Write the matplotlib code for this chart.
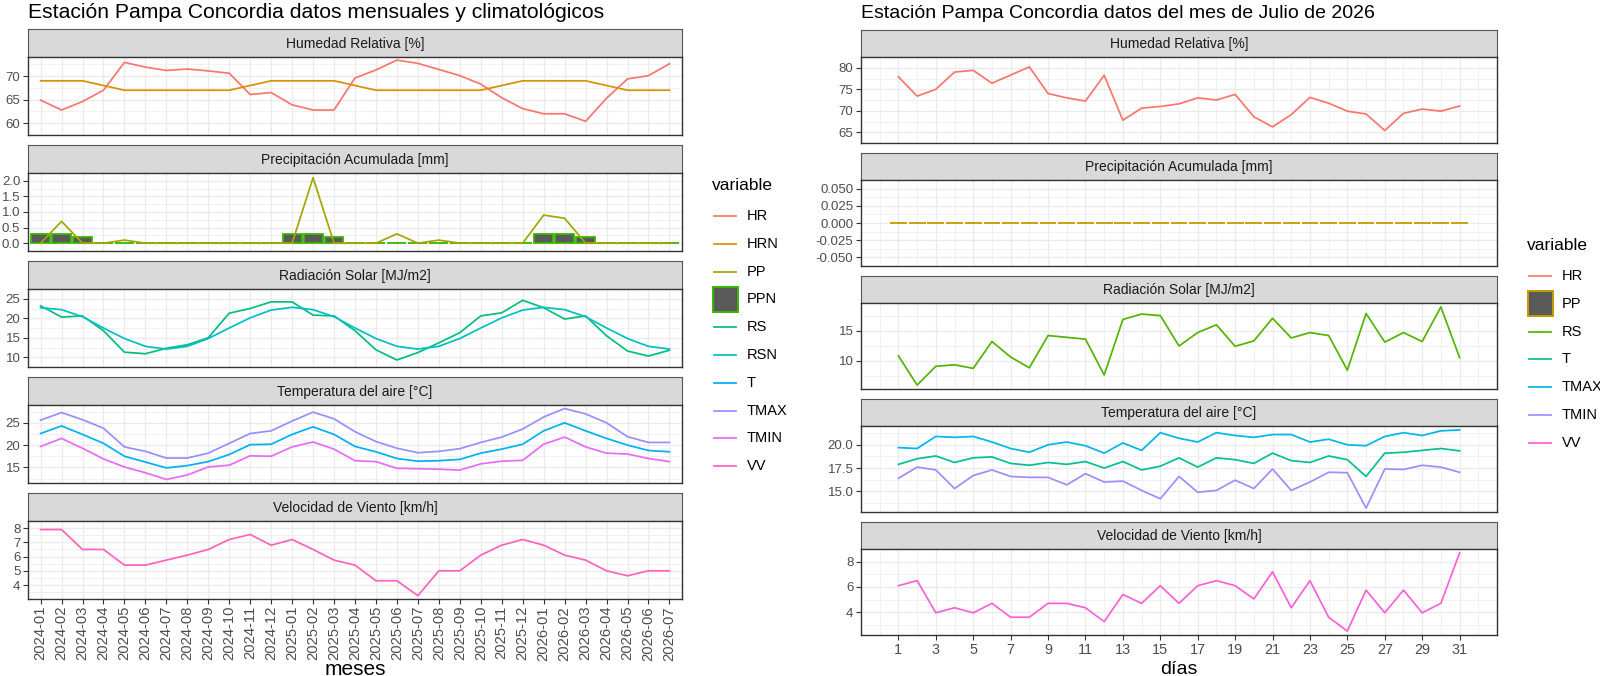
import numpy as np
import matplotlib.pyplot as plt
from matplotlib.lines import Line2D
from matplotlib.patches import Rectangle

W, H = 1600, 676
plt.rcParams["font.family"] = ["Liberation Sans", "DejaVu Sans"]
plt.rcParams["axes.unicode_minus"] = False

# ---------------------------------------------------------------- monthly / climatological data
meses = [f"{y}-{m:02d}" for y in (2024, 2025, 2026) for m in range(1, 13)][:31]
hr_mes = [64.9, 62.8, 64.6, 67.0, 72.9, 71.9, 71.2, 71.5, 71.1, 70.6, 66.1, 66.5, 63.9, 62.8, 62.8, 69.6,
          71.3, 73.4, 72.7, 71.4, 70.1, 68.3, 65.4, 63.1, 62.0, 62.0, 60.4, 65.3, 69.4, 70.1, 72.6]
hrn_mes = [69, 69, 69, 68, 67, 67, 67, 67, 67, 67, 68, 69, 69, 69, 69, 68,
           67, 67, 67, 67, 67, 67, 68, 69, 69, 69, 69, 68, 67, 67, 67]
pp_mes = [0.0, 0.7, 0.0, 0.0, 0.1, 0.0, 0.0, 0.0, 0.0, 0.0, 0.0, 0.0, 0.0, 2.1, 0.0, 0.0,
          0.0, 0.3, 0.0, 0.1, 0.0, 0.0, 0.0, 0.0, 0.9, 0.8, 0.0, 0.0, 0.0, 0.0, 0.0]
ppn_mes = [0.3, 0.3, 0.2, 0.0, 0.0, 0.0, 0.0, 0.0, 0.0, 0.0, 0.0, 0.0, 0.3, 0.3, 0.2, 0.0,
           0.0, 0.0, 0.0, 0.0, 0.0, 0.0, 0.0, 0.0, 0.3, 0.3, 0.2, 0.0, 0.0, 0.0, 0.0]
rs_mes = [23.2, 20.3, 20.6, 16.8, 11.3, 10.9, 12.3, 13.2, 15.0, 21.3, 22.5, 24.2, 24.2, 20.8, 20.6, 16.8,
          11.9, 9.3, 11.2, 13.7, 16.3, 20.6, 21.4, 24.6, 22.7, 19.8, 20.6, 15.5, 11.6, 10.3, 11.8]
rsn_mes = [22.7, 22.2, 20.4, 17.5, 14.8, 12.8, 12.1, 12.8, 14.8, 17.5, 20.1, 22.1, 22.8, 22.2, 20.4, 17.5,
           14.8, 12.8, 12.1, 12.8, 14.8, 17.5, 20.1, 22.1, 22.8, 22.2, 20.4, 17.5, 14.8, 12.8, 12.1]
t_mes = [22.6, 24.3, 22.4, 20.4, 17.5, 16.2, 14.9, 15.4, 16.3, 17.9, 20.1, 20.2, 22.4, 24.1, 22.4, 19.7,
         18.5, 17.0, 16.4, 16.5, 16.8, 18.2, 19.1, 20.2, 23.2, 25.0, 23.2, 21.5, 20.0, 18.8, 18.5]
tmax_mes = [25.6, 27.3, 25.7, 23.8, 19.6, 18.6, 17.1, 17.1, 18.2, 20.4, 22.6, 23.2, 25.4, 27.4, 25.9, 23.0,
            20.8, 19.3, 18.3, 18.6, 19.2, 20.6, 21.8, 23.6, 26.3, 28.2, 27.0, 25.0, 21.9, 20.6, 20.6]
tmin_mes = [19.7, 21.5, 19.3, 16.9, 15.1, 13.8, 12.3, 13.3, 15.1, 15.5, 17.6, 17.5, 19.6, 20.7, 19.1, 16.5,
            16.3, 14.8, 14.7, 14.6, 14.4, 15.8, 16.4, 16.6, 20.2, 21.8, 19.6, 18.2, 18.0, 17.0, 16.3]
vv_mes = [7.9, 7.9, 6.5, 6.5, 5.4, 5.4, 5.75, 6.1, 6.5, 7.2, 7.55, 6.8, 7.2, 6.5, 5.75, 5.4,
          4.3, 4.3, 3.25, 5.0, 5.0, 6.1, 6.8, 7.2, 6.8, 6.1, 5.75, 5.0, 4.65, 5.0, 5.0]

# ---------------------------------------------------------------- daily data, July 2026
dias = list(range(1, 32))
hr_dia = [77.9, 73.4, 75.0, 79.0, 79.4, 76.4, 78.3, 80.2, 74.0, 73.0, 72.25, 78.25, 67.8, 70.6, 71.0, 71.6,
          73.0, 72.5, 73.8, 68.6, 66.25, 69.1, 73.1, 71.75, 69.9, 69.25, 65.4, 69.4, 70.4, 69.9, 71.1]
pp_dia = [0.0] * 31
rs_dia = [10.8, 5.9, 9.05, 9.3, 8.7, 13.2, 10.6, 8.8, 14.2, 13.9, 13.6, 7.6, 16.9, 17.8, 17.55, 12.45,
          14.7, 16.0, 12.4, 13.3, 17.1, 13.8, 14.7, 14.2, 8.4, 17.9, 13.1, 14.7, 13.2, 19.0, 10.5]
t_dia = [17.9, 18.5, 18.8, 18.1, 18.6, 18.7, 18.0, 17.8, 18.1, 17.9, 18.2, 17.5, 18.2, 17.3, 17.7, 18.6,
         17.6, 18.6, 18.4, 18.0, 19.1, 18.3, 18.1, 18.8, 18.4, 16.6, 19.1, 19.2, 19.4, 19.6, 19.35]
tmax_dia = [19.7, 19.6, 20.9, 20.8, 20.9, 20.3, 19.6, 19.2, 20.0, 20.3, 19.9, 19.1, 20.2, 19.4, 21.3, 20.7,
            20.3, 21.3, 21.0, 20.8, 21.1, 21.1, 20.3, 20.6, 20.0, 19.9, 20.9, 21.3, 21.0, 21.5, 21.6]
tmin_dia = [16.4, 17.6, 17.3, 15.3, 16.7, 17.3, 16.6, 16.5, 16.5, 15.7, 16.9, 16.0, 16.1, 15.1, 14.2, 16.6,
            14.9, 15.1, 16.2, 15.3, 17.4, 15.1, 16.0, 17.05, 17.0, 13.2, 17.4, 17.35, 17.8, 17.6, 17.05]
vv_dia = [6.1, 6.5, 3.95, 4.35, 3.95, 4.7, 3.6, 3.6, 4.7, 4.7, 4.35, 3.25, 5.4, 4.7, 6.1, 4.7,
          6.1, 6.5, 6.1, 5.05, 7.2, 4.35, 6.5, 3.6, 2.5, 5.75, 3.95, 5.75, 3.95, 4.7, 8.7]

# ggplot hue palettes (10 and 7 levels)
COL_MES = {"HR": "#F8766D", "HRN": "#D89000", "PP": "#A3A500", "PPN": "#39B600", "RS": "#00BF7D",
           "RSN": "#00BFC4", "T": "#00B0F6", "TMAX": "#9590FF", "TMIN": "#E76BF3", "VV": "#FF62BC"}
COL_DIA = {"HR": "#F8766D", "PP": "#C49A00", "RS": "#53B400", "T": "#00C094", "TMAX": "#00B6EB",
           "TMIN": "#A58AFF", "VV": "#FB61D7"}
BAR_FILL = "#595959"
LW = 1.25
GRID = "#EBEBEB"
TICK_TXT = "#4D4D4D"
Y_TICK_SIZE = 9.5


def px_rect(left, top, width, height):
    return [left / W, 1 - (top + height) / H, width / W, height / H]


def facet(fig, left, top, width, strip_h, plot_h, title):
    strip = fig.add_axes(px_rect(left, top, width, strip_h))
    strip.set_facecolor("#D9D9D9")
    strip.set_xticks([])
    strip.set_yticks([])
    for spine in strip.spines.values():
        spine.set_color("#555555")
        spine.set_linewidth(0.8)
    strip.text(0.5, 0.48, title, ha="center", va="center", fontsize=10, color="#1A1A1A",
               transform=strip.transAxes)
    ax = fig.add_axes(px_rect(left, top + strip_h, width, plot_h))
    for spine in ax.spines.values():
        spine.set_color("#333333")
        spine.set_linewidth(1.0)
    ax.set_axisbelow(True)
    ax.tick_params(axis="y", which="major", length=3.5, width=0.8, color="#333333",
                   labelsize=Y_TICK_SIZE, labelcolor=TICK_TXT, pad=2)
    ax.tick_params(which="minor", length=0)
    return ax


def y_scale(ax, series, ticks, labels=None, fixed=None):
    if fixed is None:
        lo = min(min(s) for s in series)
        hi = max(max(s) for s in series)
        pad = 0.05 * (hi - lo)
        ax.set_ylim(lo - pad, hi + pad)
    else:
        ax.set_ylim(*fixed)
    step = ticks[1] - ticks[0]
    minor = [t - step / 2 for t in ticks] + [ticks[-1] + step / 2]
    ax.set_yticks(ticks)
    ax.set_yticklabels(labels if labels else [f"{t:g}" for t in ticks])
    ax.set_yticks(minor, minor=True)
    ax.grid(which="major", axis="y", color=GRID, lw=1.0)
    ax.grid(which="minor", axis="y", color=GRID, lw=0.5)


def x_months(ax, bottom):
    x = np.arange(len(meses))
    ax.set_xlim(-0.6, len(meses) - 0.4)
    ax.set_xticks(x)
    ax.grid(which="major", axis="x", color=GRID, lw=1.0)
    if bottom:
        ax.set_xticklabels(meses, rotation=90, fontsize=10.6, color=TICK_TXT)
        ax.tick_params(axis="x", length=3.5, width=0.8, color="#333333", pad=1.5)
    else:
        ax.tick_params(axis="x", length=0, labelbottom=False)


def x_days(ax, bottom):
    ax.set_xlim(-1, 33)
    ax.set_xticks(dias[::2])
    ax.set_xticks(range(0, 33, 2), minor=True)
    ax.grid(which="major", axis="x", color=GRID, lw=1.0)
    ax.grid(which="minor", axis="x", color=GRID, lw=0.5)
    if bottom:
        ax.set_xticklabels([str(d) for d in dias[::2]], fontsize=10.4, color=TICK_TXT)
        ax.tick_params(axis="x", which="major", length=3.5, width=0.8, color="#333333", pad=2)
    else:
        ax.tick_params(axis="x", which="major", length=0, labelbottom=False)


def legend(fig, x, y_title, y_first, items, colors, box_item):
    fig.text(x / W, 1 - y_title / H, "variable", fontsize=12.5, va="center", ha="left")
    for i, name in enumerate(items):
        y = y_first + 27.8 * i
        if name == box_item:
            fig.add_artist(Rectangle(((x + 1) / W, 1 - (y + 12.5) / H), 25 / W, 25 / H,
                                     facecolor=BAR_FILL, edgecolor=colors[name], lw=1.4,
                                     transform=fig.transFigure))
        else:
            fig.add_artist(Line2D([(x + 2) / W, (x + 24) / W], [1 - y / H] * 2, color=colors[name],
                                  lw=LW, transform=fig.transFigure))
        fig.text((x + 35) / W, 1 - y / H, name, fontsize=10.5, va="center", ha="left")


fig = plt.figure(figsize=(W / 100, H / 100), dpi=100)

# ---------------------------------------------------------------- left: monthly
L_LEFT, L_WIDTH, L_STRIP, L_PLOT, L_STEP, L_TOP = 28, 654, 28, 78, 116, 29
xm = np.arange(len(meses))

fig.text(L_LEFT / W, 1 - 18 / H, "Estación Pampa Concordia datos mensuales y climatológicos",
         fontsize=15.2, ha="left", va="baseline")

ax = facet(fig, L_LEFT, L_TOP, L_WIDTH, L_STRIP, L_PLOT, "Humedad Relativa [%]")
ax.plot(xm, hr_mes, color=COL_MES["HR"], lw=LW)
ax.plot(xm, hrn_mes, color=COL_MES["HRN"], lw=LW)
y_scale(ax, [hr_mes, hrn_mes], [60, 65, 70])
x_months(ax, False)

ax = facet(fig, L_LEFT, L_TOP + L_STEP, L_WIDTH, L_STRIP, L_PLOT, "Precipitación Acumulada [mm]")
ax.bar(xm, ppn_mes, width=0.9, color=BAR_FILL, edgecolor=COL_MES["PPN"], lw=1.3)
ax.plot(xm, pp_mes, color=COL_MES["PP"], lw=LW)
y_scale(ax, [pp_mes, ppn_mes], [0.0, 0.5, 1.0, 1.5, 2.0], ["0.0", "0.5", "1.0", "1.5", "2.0"])
x_months(ax, False)

ax = facet(fig, L_LEFT, L_TOP + 2 * L_STEP, L_WIDTH, L_STRIP, L_PLOT, "Radiación Solar [MJ/m2]")
ax.plot(xm, rs_mes, color=COL_MES["RS"], lw=LW)
ax.plot(xm, rsn_mes, color=COL_MES["RSN"], lw=LW)
y_scale(ax, [rs_mes, rsn_mes], [10, 15, 20, 25])
x_months(ax, False)

ax = facet(fig, L_LEFT, L_TOP + 3 * L_STEP, L_WIDTH, L_STRIP, L_PLOT, "Temperatura del aire [°C]")
ax.plot(xm, t_mes, color=COL_MES["T"], lw=LW)
ax.plot(xm, tmax_mes, color=COL_MES["TMAX"], lw=LW)
ax.plot(xm, tmin_mes, color=COL_MES["TMIN"], lw=LW)
y_scale(ax, [t_mes, tmax_mes, tmin_mes], [15, 20, 25])
x_months(ax, False)

ax = facet(fig, L_LEFT, L_TOP + 4 * L_STEP, L_WIDTH, L_STRIP, L_PLOT, "Velocidad de Viento [km/h]")
ax.plot(xm, vv_mes, color=COL_MES["VV"], lw=LW)
y_scale(ax, [vv_mes], [4, 5, 6, 7, 8])
x_months(ax, True)

fig.text((L_LEFT + L_WIDTH / 2) / W, 1 - 675 / H, "meses", fontsize=15, ha="center", va="baseline")
legend(fig, 712, 185, 216, list(COL_MES), COL_MES, "PPN")

# ---------------------------------------------------------------- right: daily
R_LEFT, R_WIDTH, R_STRIP, R_PLOT, R_STEP, R_TOP = 861, 636, 27, 86, 123, 30

fig.text(R_LEFT / W, 1 - 18 / H, "Estación Pampa Concordia datos del mes de Julio de 2026",
         fontsize=14, ha="left", va="baseline")

ax = facet(fig, R_LEFT, R_TOP, R_WIDTH, R_STRIP, R_PLOT, "Humedad Relativa [%]")
ax.plot(dias, hr_dia, color=COL_DIA["HR"], lw=LW)
y_scale(ax, [hr_dia], [65, 70, 75, 80])
x_days(ax, False)

ax = facet(fig, R_LEFT, R_TOP + R_STEP, R_WIDTH, R_STRIP, R_PLOT, "Precipitación Acumulada [mm]")
ax.bar(dias, pp_dia, width=0.9, color=BAR_FILL, edgecolor=COL_DIA["PP"], lw=1.3)
y_scale(ax, [pp_dia], [-0.05, -0.025, 0.0, 0.025, 0.05],
        ["-0.050", "-0.025", "0.000", "0.025", "0.050"], fixed=(-0.05, 0.05))
x_days(ax, False)

ax = facet(fig, R_LEFT, R_TOP + 2 * R_STEP, R_WIDTH, R_STRIP, R_PLOT, "Radiación Solar [MJ/m2]")
ax.plot(dias, rs_dia, color=COL_DIA["RS"], lw=LW)
y_scale(ax, [rs_dia], [10, 15])
x_days(ax, False)

ax = facet(fig, R_LEFT, R_TOP + 3 * R_STEP, R_WIDTH, R_STRIP, R_PLOT, "Temperatura del aire [°C]")
ax.plot(dias, t_dia, color=COL_DIA["T"], lw=LW)
ax.plot(dias, tmax_dia, color=COL_DIA["TMAX"], lw=LW)
ax.plot(dias, tmin_dia, color=COL_DIA["TMIN"], lw=LW)
y_scale(ax, [t_dia, tmax_dia, tmin_dia], [15.0, 17.5, 20.0], ["15.0", "17.5", "20.0"])
x_days(ax, False)

ax = facet(fig, R_LEFT, R_TOP + 4 * R_STEP, R_WIDTH, R_STRIP, R_PLOT, "Velocidad de Viento [km/h]")
ax.plot(dias, vv_dia, color=COL_DIA["VV"], lw=LW)
y_scale(ax, [vv_dia], [4, 6, 8])
x_days(ax, True)

fig.text((R_LEFT + R_WIDTH / 2) / W, 1 - 674 / H, "días", fontsize=14, ha="center", va="baseline")
legend(fig, 1527, 245, 276, list(COL_DIA), COL_DIA, "PP")

fig.savefig("out.png", dpi=100, facecolor="white")
